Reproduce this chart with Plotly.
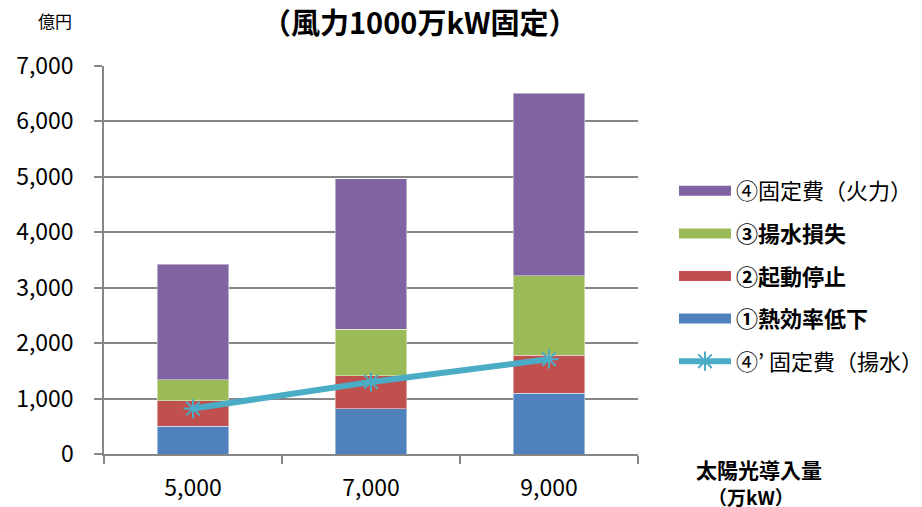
import plotly.graph_objects as go

categories = ["5,000", "7,000", "9,000"]
s1_name = "<b>①熱効率低下</b>"
s2_name = "<b>②起動停止</b>"
s3_name = "<b>③揚水損失</b>"
s4_name = "④固定費（火力）"
line_name = "④’ 固定費（揚水）"
s1_vals = [500, 820, 1100]
s2_vals = [460, 590, 680]
s3_vals = [380, 840, 1440]
s4_vals = [2080, 2720, 3290]
line_vals = [820, 1300, 1710]
y_ticks = [0, 1000, 2000, 3000, 4000, 5000, 6000, 7000]
y_tick_text = ["0", "1,000", "2,000", "3,000", "4,000", "5,000", "6,000", "7,000"]

C1, C2, C3, C4, CL = "#4F81BD", "#C0504D", "#9BBB59", "#8064A2", "#4BACC6"
FONT = "Noto Sans CJK JP, Noto Sans, sans-serif"

# page body has an 8px margin; the figure is sized so that it ends at the window edge
OFF = 8
W, H = 922 - OFF, 507 - OFF
PL, PT, PR, PB = 104, 66, 638, 454  # plot area in window pixels
PW, PH = PR - PL, PB - PT


def px(x):
    return (x - PL) / PW


def py(y):
    return (PB - y) / PH


fig = go.Figure()
for name, vals, col in [(s1_name, s1_vals, C1), (s2_name, s2_vals, C2),
                        (s3_name, s3_vals, C3), (s4_name, s4_vals, C4)]:
    fig.add_trace(go.Bar(x=categories, y=vals, name=name, showlegend=False,
                         marker=dict(color=col, line=dict(color="rgba(255,255,255,0.45)", width=1))))

fig.add_trace(go.Scatter(x=categories, y=line_vals, name=line_name, mode="lines+markers",
                         line=dict(color=CL, width=6),
                         marker=dict(symbol="asterisk-open", size=16, color=CL,
                                     line=dict(color=CL, width=2)),
                         legendgroup="g5", legendrank=5))

# legend entries (wide colour swatches) for the bar series
for rank, (name, col) in enumerate([(s4_name, C4), (s3_name, C3), (s2_name, C2), (s1_name, C1)], start=1):
    fig.add_trace(go.Scatter(x=[None], y=[None], name=name, mode="lines",
                             line=dict(color=col, width=10),
                             legendgroup="g%d" % rank, legendrank=rank, showlegend=True))

fig.update_layout(
    width=W, height=H,
    barmode="stack", bargap=0.6,
    plot_bgcolor="white", paper_bgcolor="white",
    margin=dict(l=PL - OFF, r=W - (PR - OFF), t=PT - OFF, b=H - (PB - OFF), pad=0,
                autoexpand=False),
    font=dict(family=FONT, size=19, color="#000000"),
    legend=dict(x=px(674), y=py(170), xanchor="left", yanchor="top",
                traceorder="grouped", tracegroupgap=11, itemwidth=52,
                font=dict(size=22, family=FONT), bgcolor="rgba(0,0,0,0)"),
    xaxis=dict(showline=True, linecolor="#868686", linewidth=1.5, automargin=False,
               ticks="outside", tickson="boundaries", ticklen=8, tickcolor="#868686",
               tickwidth=1.5, ticklabelstandoff=13, tickfont=dict(size=23)),
    yaxis=dict(range=[0, 7000], tickvals=y_ticks, ticktext=y_tick_text, automargin=False,
               showgrid=True, gridcolor="#868686", gridwidth=1.5,
               showline=True, linecolor="#868686", linewidth=1.5,
               ticks="outside", ticklen=8, tickcolor="#868686", tickwidth=1.5,
               ticklabelstandoff=16, tickfont=dict(size=23), zeroline=False),
    showlegend=True,
)

fig.add_annotation(text="<b>（風力1000万kW固定）</b>", xref="paper", yref="paper",
                   x=px(420), y=py(21), xanchor="center", yanchor="middle",
                   showarrow=False, font=dict(size=29, family=FONT))
fig.add_annotation(text="億円", xref="paper", yref="paper",
                   x=px(55), y=py(21), xanchor="center", yanchor="middle",
                   showarrow=False, font=dict(size=17, family=FONT))
fig.add_annotation(text="<b>太陽光導入量</b>", xref="paper", yref="paper",
                   x=px(759), y=py(469), xanchor="center", yanchor="middle",
                   showarrow=False, font=dict(size=21, family=FONT))
fig.add_annotation(text="<b>（万kW）</b>", xref="paper", yref="paper",
                   x=px(751), y=py(496), xanchor="center", yanchor="middle",
                   showarrow=False, font=dict(size=19, family=FONT))
fig.add_annotation(text="<b>電設備利用率変化】</b>", xref="paper", yref="paper",
                   x=px(222), y=py(501), xanchor="right", yanchor="top",
                   showarrow=False, font=dict(size=30, family=FONT))

fig.write_html("out.html")
